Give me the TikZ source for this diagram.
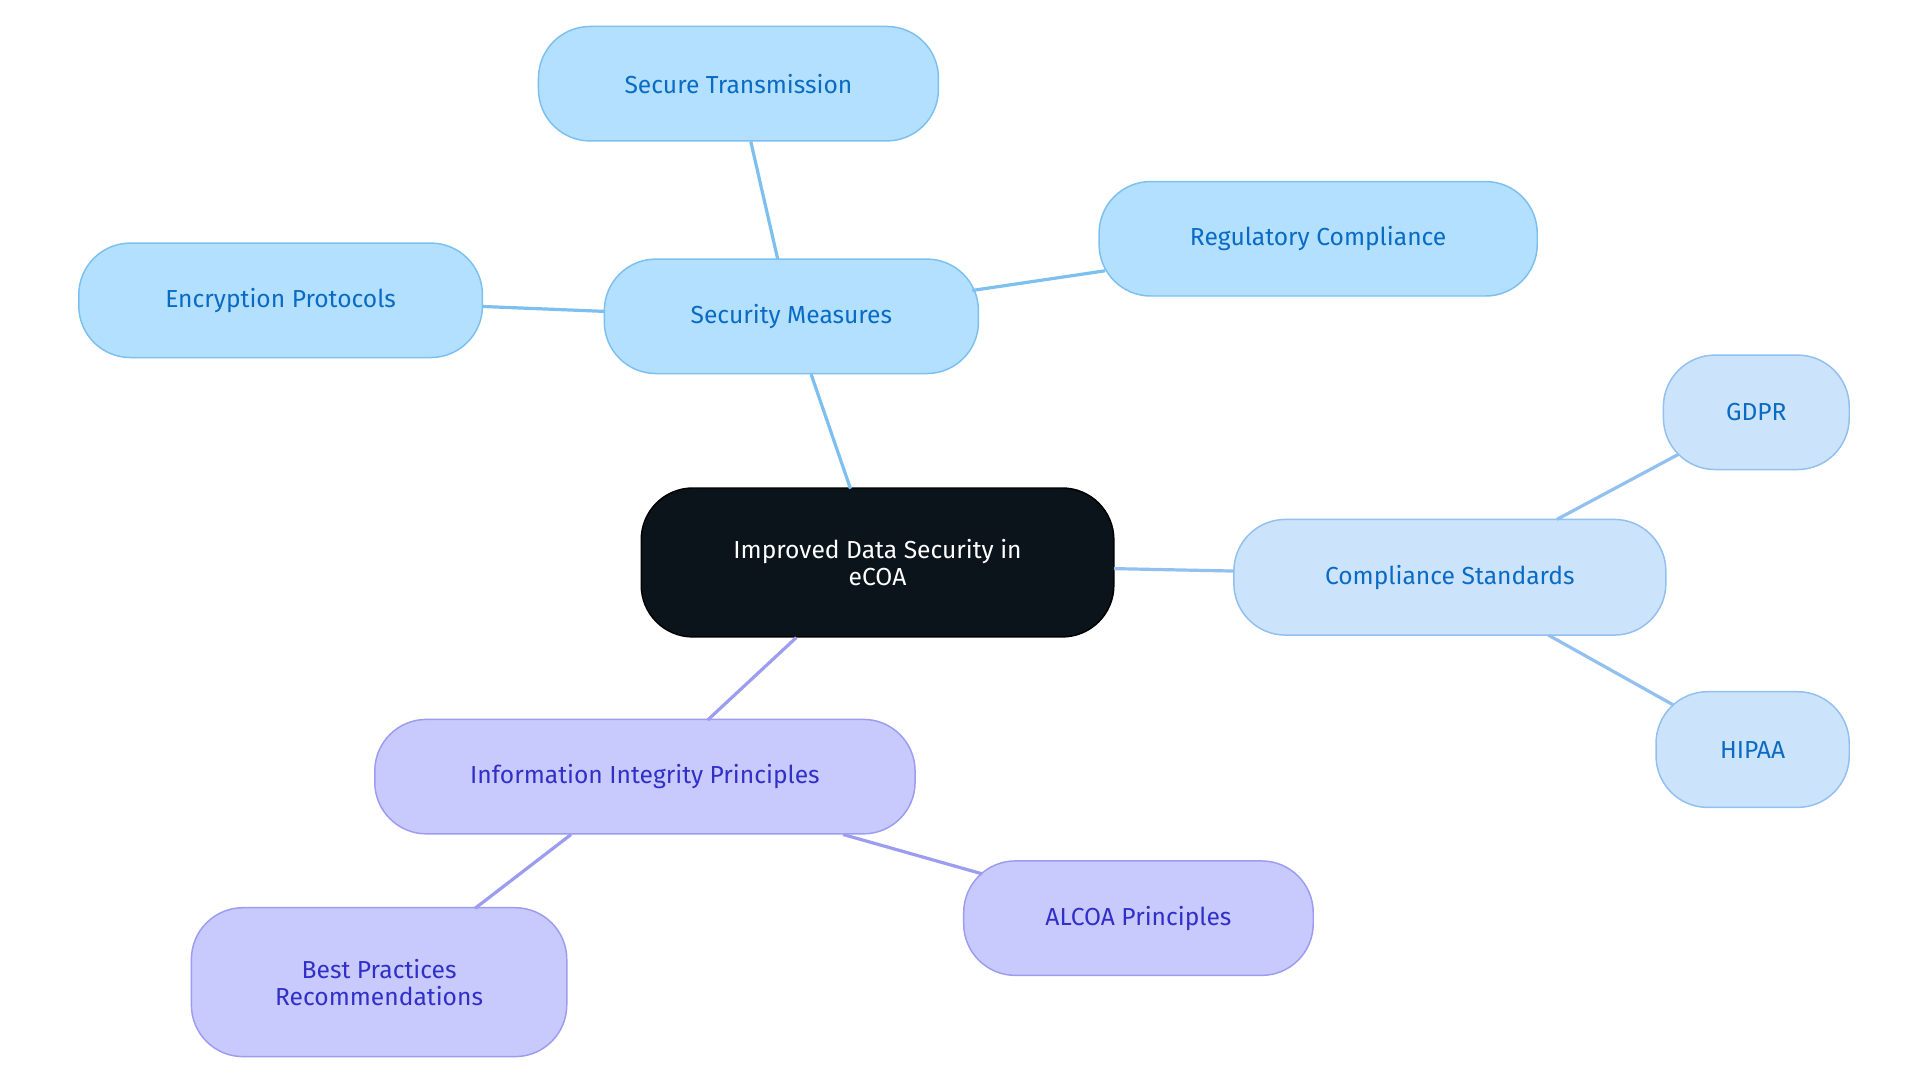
\documentclass[tikz,border=0pt]{standalone}
\usepackage{fontspec}
\setmainfont{Fira Sans}
\definecolor{bfill}{HTML}{B3E0FF}\definecolor{bline}{HTML}{7DC0F0}\definecolor{btext}{HTML}{0A6BC4}
\definecolor{cfill}{HTML}{CCE3FC}\definecolor{cline}{HTML}{92C0F0}
\definecolor{pfill}{HTML}{C8CAFE}\definecolor{pline}{HTML}{9C9CF0}\definecolor{ptext}{HTML}{3030C8}
\definecolor{dark}{HTML}{0B131B}
\begin{document}
\begin{tikzpicture}[x=1pt,y=-1pt,
 base/.style={rounded corners=42pt,line width=1.2pt,align=center,font=\fontsize{20}{22}\selectfont,inner sep=0pt},
 bnode/.style={base,fill=bfill,draw=bline,text=btext},
 cnode/.style={base,fill=cfill,draw=cline,text=btext},
 pnode/.style={base,fill=pfill,draw=pline,text=ptext},
 be/.style={draw=bline,line width=2.6pt},
 ce/.style={draw=cline,line width=2.6pt},
 pe/.style={draw=pline,line width=2.6pt}]
\useasboundingbox[fill=white] (0,0) rectangle (1560,880);
\node[base,fill=dark,draw=black,text=white,minimum width=384pt,minimum height=121pt] (c) at (713,457) {Improved Data Security in\\eCOA};
\node[bnode,minimum width=304pt,minimum height=93pt] (sm) at (643,257) {Security Measures};
\node[bnode,minimum width=325pt,minimum height=93pt] (st) at (600,68) {Secure Transmission};
\node[bnode,minimum width=356pt,minimum height=93pt] (rc) at (1071,194) {Regulatory Compliance};
\node[bnode,minimum width=328pt,minimum height=93pt] (ep) at (228,244) {Encryption Protocols};
\node[cnode,minimum width=351pt,minimum height=94pt] (cs) at (1178,469) {Compliance Standards};
\node[cnode,minimum width=151pt,minimum height=93pt] (gd) at (1427,335) {GDPR};
\node[cnode,minimum width=157pt,minimum height=94pt] (hi) at (1424,609) {HIPAA};
\node[pnode,minimum width=439pt,minimum height=93pt] (ii) at (524,631) {Information Integrity Principles};
\node[pnode,minimum width=284pt,minimum height=93pt] (al) at (925,746) {ALCOA Principles};
\node[pnode,minimum width=305pt,minimum height=121pt] (bp) at (308,798) {Best Practices\\Recommendations};
\begin{scope}[on background layer/.style={}]
\end{scope}
\draw[be] (691,397) -- (659,304);
\draw[be] (632,211) -- (610,115);
\draw[be] (790,236) -- (898,220);
\draw[be] (491,253) -- (392,249);
\draw[ce] (905,462) -- (1003,464);
\draw[ce] (1265,422) -- (1364,369);
\draw[ce] (1258,516) -- (1360,573);
\draw[pe] (647,518) -- (575,585);
\draw[pe] (685,678) -- (798,710);
\draw[pe] (464,678) -- (386,738);
\end{tikzpicture}
\end{document}
